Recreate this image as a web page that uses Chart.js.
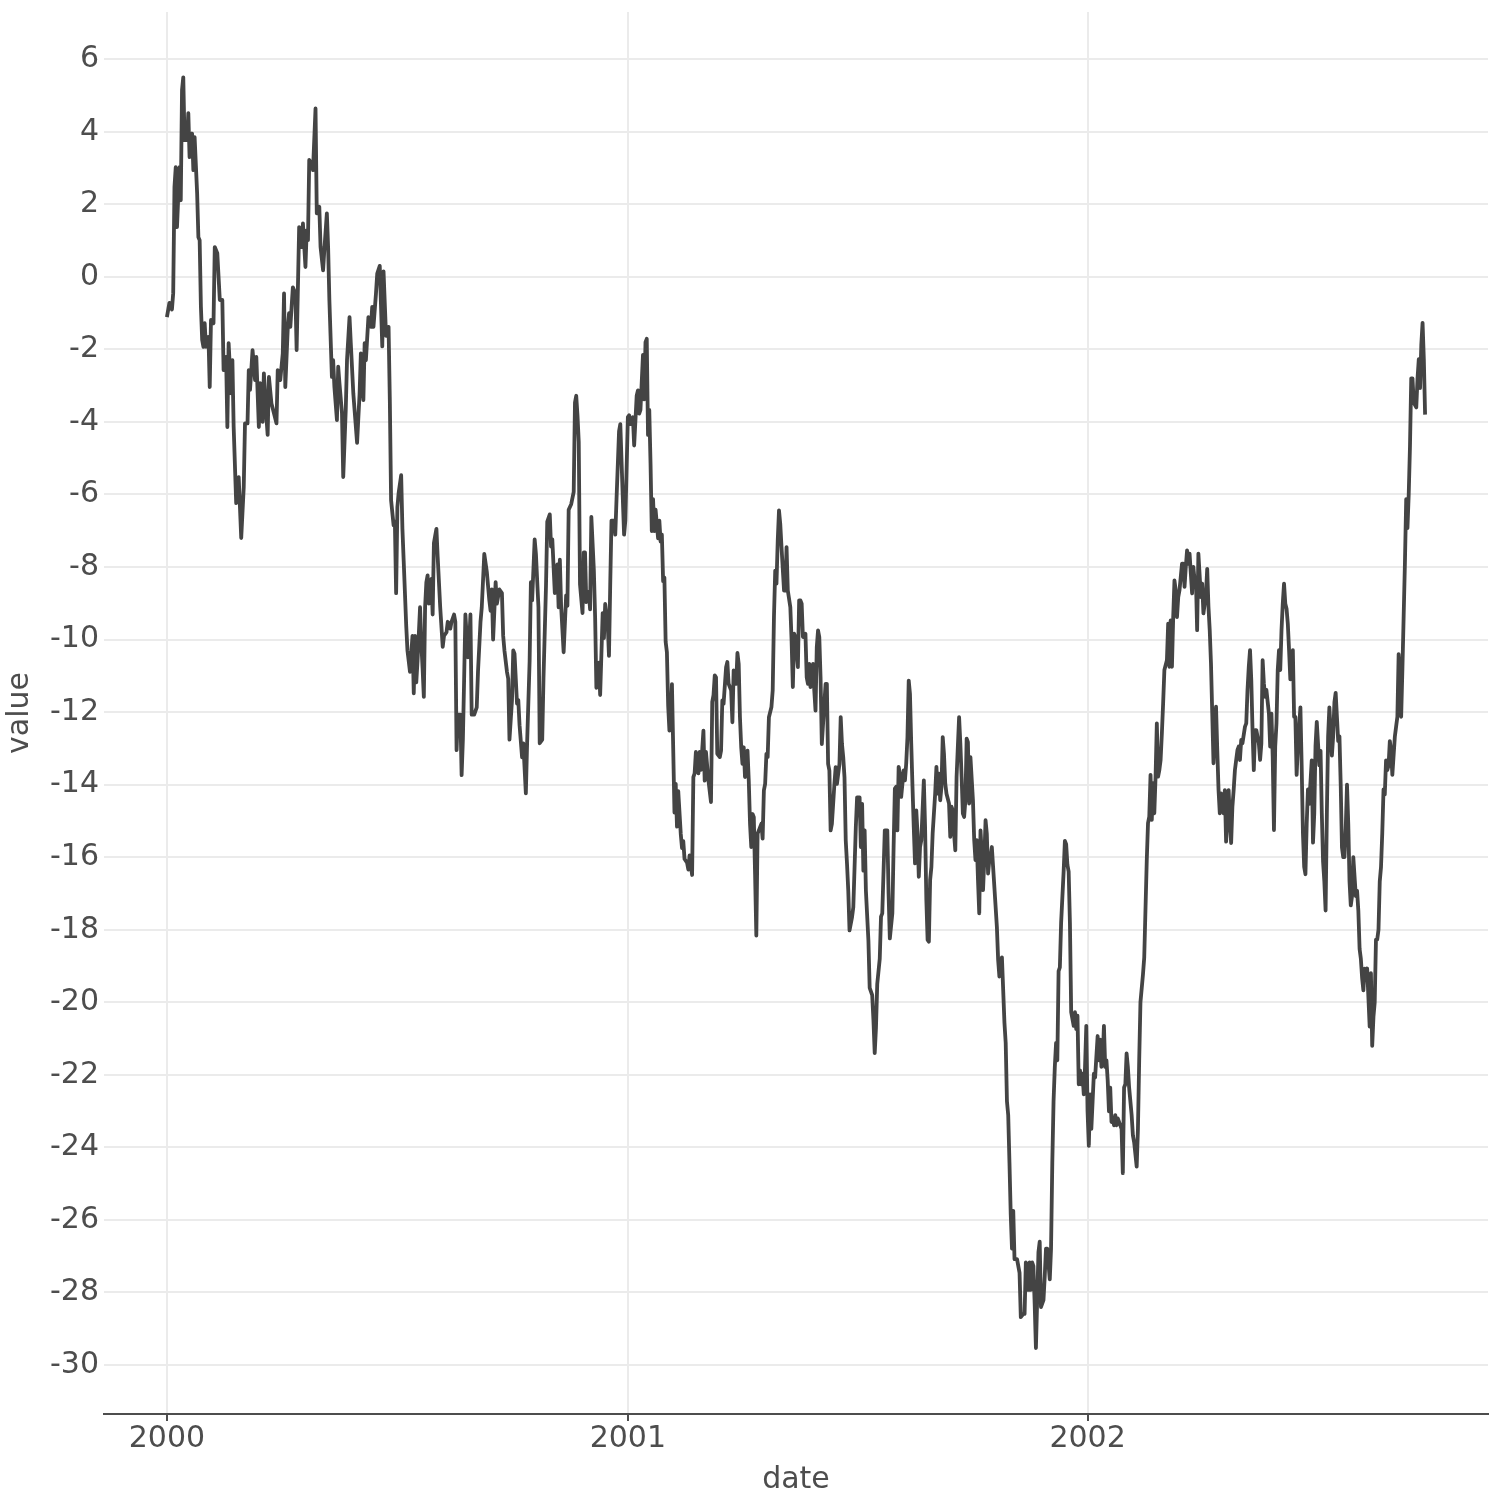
<!DOCTYPE html>
<html>
<head>
<meta charset="utf-8">
<script src="https://cdn.jsdelivr.net/npm/chart.js@4.4.1/dist/chart.umd.min.js"></script>
<style>
  html, body { margin: 0; padding: 0; background: #ffffff; }
  #wrap { width: 1500px; height: 1500px; }
</style>
</head>
<body>
<div id="wrap"><canvas id="c" width="1500" height="1500"></canvas></div>
<script>
// ---- data: days since 2000-01-01 ----
const days1 = [0,2,4,5,6,7,8,10,11,12,13,14,15,16,17,18,20,21,22,24,25,26,27,28,29,30,31,33,34,35,37,38,40,42,44,45,47,48,49,51,52,53,55,57,59,61,62,64,65,66,68,70,71,73,74,76,77,79,80,81,83,85,87,88,90,92,93,94,96,97,98,100,102,103,105,107,108,110,111,112,113,115,116,118,119,121,122,124,125,127,128,129,131,132,133,135,136,137,139,140,142,143,145,146,148,149,151,153,154,156,157,158,160,162,163,164,166,167];
const values1 = [-1.11,-0.72,-0.9,-0.45,2.47,3.02,1.37,3.02,2.11,5.15,5.5,3.77,4.13,3.77,4.51,3.3,3.95,2.94,3.85,2.3,1.09,1.01,-0.83,-1.74,-1.93,-1.28,-1.93,-1.66,-3.04,-1.19,-1.28,0.82,0.65,-0.64,-0.64,-2.57,-2.21,-4.14,-1.83,-3.21,-2.3,-4.14,-6.24,-5.52,-7.2,-5.8,-4.04,-4.04,-2.57,-3.12,-2.02,-2.85,-2.21,-4.14,-2.93,-4.0,-2.66,-3.87,-4.36,-2.76,-3.49,-3.76,-4.04,-2.57,-2.85,-2.11,-0.46,-3.04,-1.38,-1.0,-1.38,-0.29,-0.46,-2.02,1.37,0.82,1.47,0.27,1.28,1.01,3.22,3.12,2.94,4.64,1.75,1.93,0.82,0.18,0.74,1.75,0.82,-0.64,-2.76,-2.3,-3.04,-3.95,-2.48,-2.93,-3.76,-5.52,-3.67,-2.3,-1.11,-1.83,-3.21,-3.67,-4.58,-3.21,-2.11,-3.4,-1.83,-2.3,-1.11,-1.38,-0.83,-1.38,-0.46,0.09];

const days2 = [169,171,172,174,176,177,178,180,181,182,183,184,186,187,188,190,191,192,193,195,196,197,198,199,201,202,203,204,205,206,207,208,210,211,212,213,214,215,217,219,220,222,223,225,226,228,229,230,231,233,234,235,236,237,239,240,241,242,244,246,247,249,250,252,254,256,257,258,259,261,262,264,266,267,268,270,271,272,274,275,276,278,279,280,282,283,285,286,288,289,290,292,293,295,296,298,299,301,302,304,305,306,308,310,311];
const values2 = [0.30,-1.92,0.15,-1.63,-1.38,-3.40,-6.16,-6.85,-6.75,-8.72,-6.35,-5.96,-5.47,-6.95,-7.83,-9.61,-10.30,-10.59,-10.89,-9.90,-11.48,-9.90,-11.18,-10.59,-9.11,-10.1,-10.79,-11.58,-9.11,-8.42,-8.23,-9.01,-8.33,-9.31,-7.34,-7.14,-6.95,-7.73,-9.11,-10.2,-9.9,-9.8,-9.51,-9.70,-9.51,-9.31,-9.51,-13.05,-12.07,-12.07,-13.74,-12.76,-11.08,-9.31,-10.49,-10.1,-9.31,-12.07,-12.07,-11.87,-10.89,-9.51,-9.11,-7.64,-8.13,-8.92,-9.21,-8.62,-10.0,-8.42,-9.01,-8.62,-8.72,-9.9,-10.3,-10.89,-11.08,-12.76,-11.67,-10.3,-10.39,-11.77,-11.67,-12.36,-13.25,-12.86,-14.24,-12.86,-10.59,-8.42,-8.92,-7.24,-7.64,-9.11,-12.86,-12.76,-11.08,-8.52,-6.75,-6.55,-7.44,-7.24,-8.72,-7.93,-9.11];

const days3 = [312,313,315,317,318,319,321,323,324,325,326,327,328,330,331,332,333,335,336,337,339,340,341,343,344,346,347,348,350,351,352,353,355,356,357,359,360,362,363,364,366,367,368,370,371,373,374,375,376,378,379,380,381,382,383,384,385,386,387,388,390,391,392,393,394,395,396,397,398,399,400,401,403,404,405,406,408,409,410,411,413,414,415,417,418,419,420,422,423,424,426,427,428,430,432,433,434];
const values3 = [-7.80,-9.07,-10.35,-8.78,-9.07,-6.42,-6.27,-5.93,-3.47,-3.28,-3.82,-4.55,-8.48,-9.27,-7.60,-7.60,-8.97,-8.68,-9.17,-6.62,-8.09,-9.37,-11.33,-10.64,-11.53,-9.27,-9.96,-9.02,-9.56,-10.45,-8.48,-6.72,-6.72,-7.11,-6.13,-4.26,-4.06,-6.13,-7.11,-6.72,-3.87,-3.82,-4.06,-3.87,-4.65,-3.28,-3.13,-3.77,-3.67,-2.15,-3.38,-1.80,-1.71,-4.36,-3.67,-5.14,-7.01,-6.13,-7.01,-6.42,-7.21,-6.72,-7.30,-7.11,-8.39,-8.29,-10.06,-10.35,-11.82,-12.51,-12.41,-11.23,-14.77,-13.98,-15.16,-14.18,-15.36,-15.75,-15.56,-16.05,-16.15,-16.34,-15.95,-16.49,-13.79,-13.69,-13.10,-13.69,-13.10,-13.59,-12.51,-13.89,-13.10,-13.89,-14.48,-11.72,-11.53];

const days4 = [435,436,437,439,440,441,442,444,445,446,448,449,450,452,453,454,455,456,457,458,459,461,462,463,464,465,466,467,468,469,471,472,473,474,475,476,477,478,480,481,482,483,484,485,486,487,488,490,491,492,493,495,496,497,498,499,501,502,503,504,505,507,508,509,510,511,513,514,515,516,517,518,519,520,521,523,524,525,526,527,528,529,530,531,532,534,535,536,537,538,539,540,541,542,544,545,546,547,548,550,551,552,553,554,555,557];
const values4 = [-10.99,-11.04,-13.15,-13.24,-13.06,-11.68,-11.77,-10.76,-10.62,-11.22,-11.40,-12.28,-10.85,-11.22,-10.37,-10.67,-12.14,-12.97,-13.43,-12.97,-13.79,-13.06,-13.89,-15.08,-15.72,-14.81,-14.90,-16.46,-18.16,-15.35,-15.17,-15.08,-15.49,-14.16,-13.98,-13.15,-13.24,-12.14,-11.86,-11.40,-9.38,-8.10,-8.46,-7.27,-6.44,-6.81,-7.45,-8.65,-8.65,-7.45,-8.65,-9.11,-10.03,-11.31,-9.84,-9.93,-10.76,-8.92,-8.92,-9.01,-9.93,-9.84,-11.04,-11.22,-10.67,-11.31,-10.67,-11.40,-11.96,-10.21,-9.75,-9.93,-11.04,-12.88,-12.32,-11.22,-11.22,-13.43,-13.61,-15.26,-15.08,-14.53,-13.98,-13.52,-13.98,-13.43,-12.14,-12.88,-13.24,-13.79,-15.54,-16.18,-16.92,-18.02,-17.65,-17.38,-16.28,-15.17,-14.35,-14.35,-15.72,-14.53,-16.37,-15.26,-16.92,-18.30];

const days5 = [558,560,561,562,563,564,566,567,568,570,572,573,574,576,577,578,579,580,581,582,583,585,586,587,588,589,590,591,592,593,594,595,596,597,598,599,601,602,603,604,605,606,607,608,610,611,612,613,614,615,616,617,618,619,621,622,623,624,625,626,627,628,629,630,631,632,633,634,635,636,637,638,640,641,642,643,644,645,646,647,648,649,650,651,652,653];
const values5 = [-19.6,-19.8,-20.5,-21.4,-20.7,-19.5,-18.8,-17.64,-17.55,-15.26,-15.26,-17.0,-18.24,-17.55,-15.72,-14.11,-14.06,-15.26,-13.51,-13.70,-14.34,-13.61,-13.88,-13.42,-12.69,-11.13,-11.50,-12.87,-14.06,-15.17,-16.17,-14.71,-15.35,-16.54,-15.72,-15.53,-13.88,-15.17,-17.18,-18.28,-18.33,-16.63,-16.27,-15.35,-14.25,-13.51,-14.25,-13.70,-14.43,-14.06,-12.69,-13.15,-13.97,-14.25,-14.52,-15.44,-14.61,-14.71,-15.35,-15.81,-13.79,-12.96,-12.14,-12.87,-13.79,-14.80,-14.89,-14.43,-12.73,-12.83,-14.52,-13.24,-14.43,-15.53,-16.08,-15.53,-16.63,-17.55,-15.26,-15.90,-16.91,-16.08,-14.98,-15.35,-16.45,-16.08];

const days6 = [654,655,656,658,659,660,661,662,663,665,666,667,668,669,670,671,672,673,675,677,678,680,681,682,684,685,686,687,688,689,690,692,693,694,696,697,698,699,701,702,703,704,705,706,707,708,709,710,712,713,714,715,716,717,718,720,721,722,723,724,725,726,727,728,729,730,731,732,733,734,735,736,737,739,740,741,742,743,744,745,746,747,748,749,750,751,752,753,754,755,756,758,759,760,761,762,763,764,766,767,768,770,771,772,773,775,776];
const values6 = [-15.99,-15.72,-16.27,-17.37,-17.92,-18.83,-19.29,-19.1,-18.76,-20.56,-21.12,-22.73,-23.11,-24.43,-25.85,-26.79,-25.75,-27.08,-27.08,-27.46,-28.68,-28.59,-28.59,-27.17,-27.93,-27.17,-27.93,-27.17,-27.27,-28.31,-29.53,-26.89,-26.60,-28.40,-28.21,-27.55,-26.79,-26.79,-27.64,-26.79,-24.43,-22.73,-21.78,-21.12,-21.60,-19.14,-19.04,-17.81,-16.40,-15.55,-15.64,-16.21,-16.40,-17.81,-20.27,-20.65,-20.27,-20.74,-20.37,-22.26,-21.88,-22.26,-21.97,-22.54,-21.78,-20.65,-23.01,-23.96,-22.54,-23.49,-22.73,-21.97,-22.07,-20.93,-21.60,-21.03,-21.78,-21.60,-20.65,-21.78,-21.60,-22.16,-23.01,-22.35,-23.30,-23.20,-23.39,-23.11,-23.39,-23.20,-23.30,-23.49,-24.71,-22.35,-22.26,-21.41,-21.78,-22.35,-23.11,-23.67,-23.86,-24.53,-23.49,-21.60,-20.0,-19.23,-18.76];

const days7 = [778,779,780,781,782,783,784,785,786,787,788,789,790,791,792,794,795,796,797,798,799,800,801,802,803,804,806,807,808,809,810,811,812,813,814,815,816,817,818,819,821,822,823,824,825,826,827,828,829,830,831,832,833,834,835,836,837,839,840,841,842,843,844,845,846,847,848,849,850,851,852,853,854,856,857,858,859,860,861,862,863,864,865,866,867,868,869,870,871,872,873,875,876,877,878,879,880,881,882,883,884,885,886,887,888,889,890,891,892,894,895];
const values7 = [-16.1,-15.06,-14.88,-13.73,-14.97,-13.96,-14.79,-13.78,-12.31,-13.78,-13.60,-13.32,-12.59,-11.76,-10.84,-10.57,-9.56,-10.75,-9.47,-10.75,-9.38,-8.37,-8.64,-9.38,-8.83,-8.64,-7.91,-7.91,-8.55,-8.0,-7.54,-7.91,-7.63,-8.18,-8.73,-8.0,-8.37,-8.28,-9.74,-7.63,-8.83,-8.46,-9.28,-9.01,-8.73,-8.05,-9.10,-9.74,-10.66,-12.04,-13.41,-12.50,-11.85,-13.05,-14.15,-14.79,-14.24,-14.79,-14.15,-15.57,-14.97,-14.15,-14.97,-15.61,-14.61,-14.15,-13.60,-13.32,-13.05,-12.95,-13.32,-12.77,-12.86,-12.40,-12.31,-11.39,-10.75,-10.29,-11.12,-12.50,-13.60,-12.50,-12.50,-12.68,-12.86,-13.32,-12.86,-10.57,-11.21,-11.58,-11.39,-12.04,-12.95,-12.04,-13.23,-15.25,-12.95,-12.31,-10.84,-10.29,-10.84,-9.74,-9.0,-8.46,-9.01,-9.15,-9.56,-10.29,-11.1,-10.29,-12.13];

const days8 = [896,897,898,900,901,902,903,904,905,906,907,909,910,911,912,913,915,916,917,918,919,920,921,922,923,925,926,927,928,929,930,931,932,933,934,935,936,937,938,939,940,941,942,944,945,946,947,948,949,950,951,952,953,954,955,956,957,958,959,960,961,962,963,964,965,966,967,968,969,970,971,972,973,975,976,977,978,979,980,981,982,983,984,985,986,987,988,989,990,992,993,994,995,996,997,998,999];
const values8 = [-12.13,-13.73,-12.93,-11.87,-13.47,-15.33,-16.27,-16.47,-15.07,-14.13,-14.53,-13.33,-15.6,-14.8,-12.93,-12.27,-13.47,-13.07,-14.8,-16.13,-16.67,-17.47,-14.8,-12.67,-11.87,-13.2,-12.67,-11.73,-11.47,-12.13,-12.8,-12.67,-14.0,-15.73,-16.0,-16.0,-15.2,-14.0,-15.07,-16.67,-17.33,-17.07,-16.0,-17.07,-16.93,-17.47,-18.53,-18.8,-19.33,-19.67,-19.07,-19.2,-19.07,-19.87,-20.67,-19.2,-21.2,-20.4,-20.0,-18.27,-18.27,-18.0,-16.67,-16.27,-15.33,-14.13,-14.27,-13.33,-13.6,-13.47,-12.8,-13.07,-13.73,-12.67,-12.4,-12.13,-10.4,-10.93,-12.13,-10.8,-9.33,-7.87,-6.13,-6.93,-6.0,-4.67,-2.8,-2.8,-3.47,-3.6,-2.8,-2.27,-3.07,-1.87,-1.27,-2.27,-3.8];

// ---- axis ticks ----
const xTickDays = [0, 366, 731];
const xTickLabels = ['2000', '2001', '2002'];
const yTicks = [-30,-28,-26,-24,-22,-20,-18,-16,-14,-12,-10,-8,-6,-4,-2,0,2,4,6];

// ---- build points ----
const dayChunks = [days1, days2, days3, days4, days5, days6, days7, days8];
const valueChunks = [values1, values2, values3, values4, values5, values6, values7, values8];
const points = [];
dayChunks.forEach((ds, k) => {
  const vs = valueChunks[k];
  const n = Math.min(ds.length, vs.length);
  for (let i = 0; i < n; i++) points.push({ x: ds[i], y: vs[i] });
});

const FONT = 'DejaVu Sans';
const TXT = '#4d4d4d';
Chart.defaults.font.family = FONT;

function zeroPad(s) {
  s.paddingTop = 0; s.paddingBottom = 0; s.paddingLeft = 0; s.paddingRight = 0;
}

new Chart(document.getElementById('c'), {
  type: 'line',
  data: {
    datasets: [{
      data: points,
      borderColor: '#444444',
      borderWidth: 3.8,
      pointRadius: 0,
      pointHoverRadius: 0,
      tension: 0,
      fill: false,
      borderJoinStyle: 'round',
      borderCapStyle: 'butt'
    }]
  },
  options: {
    responsive: false,
    animation: false,
    devicePixelRatio: 1,
    events: [],
    layout: { padding: { top: 12, right: 12, left: 0, bottom: 0 } },
    plugins: { legend: { display: false }, tooltip: { enabled: false } },
    scales: {
      x: {
        type: 'linear',
        min: -49.95,
        max: 1048.95,
        afterBuildTicks: s => { s.ticks = xTickDays.map(v => ({ value: v })); },
        afterFit: s => { s.height = 86; zeroPad(s); },
        ticks: {
          callback: (v, i) => xTickLabels[i],
          font: { family: FONT, size: 30 },
          color: TXT,
          padding: 0,
          maxRotation: 0,
          autoSkip: false
        },
        grid: {
          color: '#ebebeb',
          lineWidth: 2,
          drawTicks: true,
          tickLength: 7,
          tickColor: TXT,
          tickWidth: 2
        },
        border: { display: true, color: TXT, width: 2 },
        title: {
          display: true,
          text: 'date',
          font: { family: FONT, size: 30 },
          color: TXT,
          padding: { top: 0, bottom: 2 }
        }
      },
      y: {
        type: 'linear',
        min: -31.35,
        max: 7.3,
        afterBuildTicks: s => { s.ticks = yTicks.map(v => ({ value: v })); },
        afterFit: s => { s.width = 104; zeroPad(s); },
        ticks: {
          callback: v => String(v),
          font: { family: FONT, size: 30 },
          color: TXT,
          padding: 5,
          autoSkip: false
        },
        grid: { color: '#ebebeb', lineWidth: 2, drawTicks: false },
        border: { display: false },
        title: {
          display: true,
          text: 'value',
          font: { family: FONT, size: 30 },
          color: TXT,
          padding: { top: 2, bottom: 0 }
        }
      }
    }
  }
});
</script>
</body>
</html>
